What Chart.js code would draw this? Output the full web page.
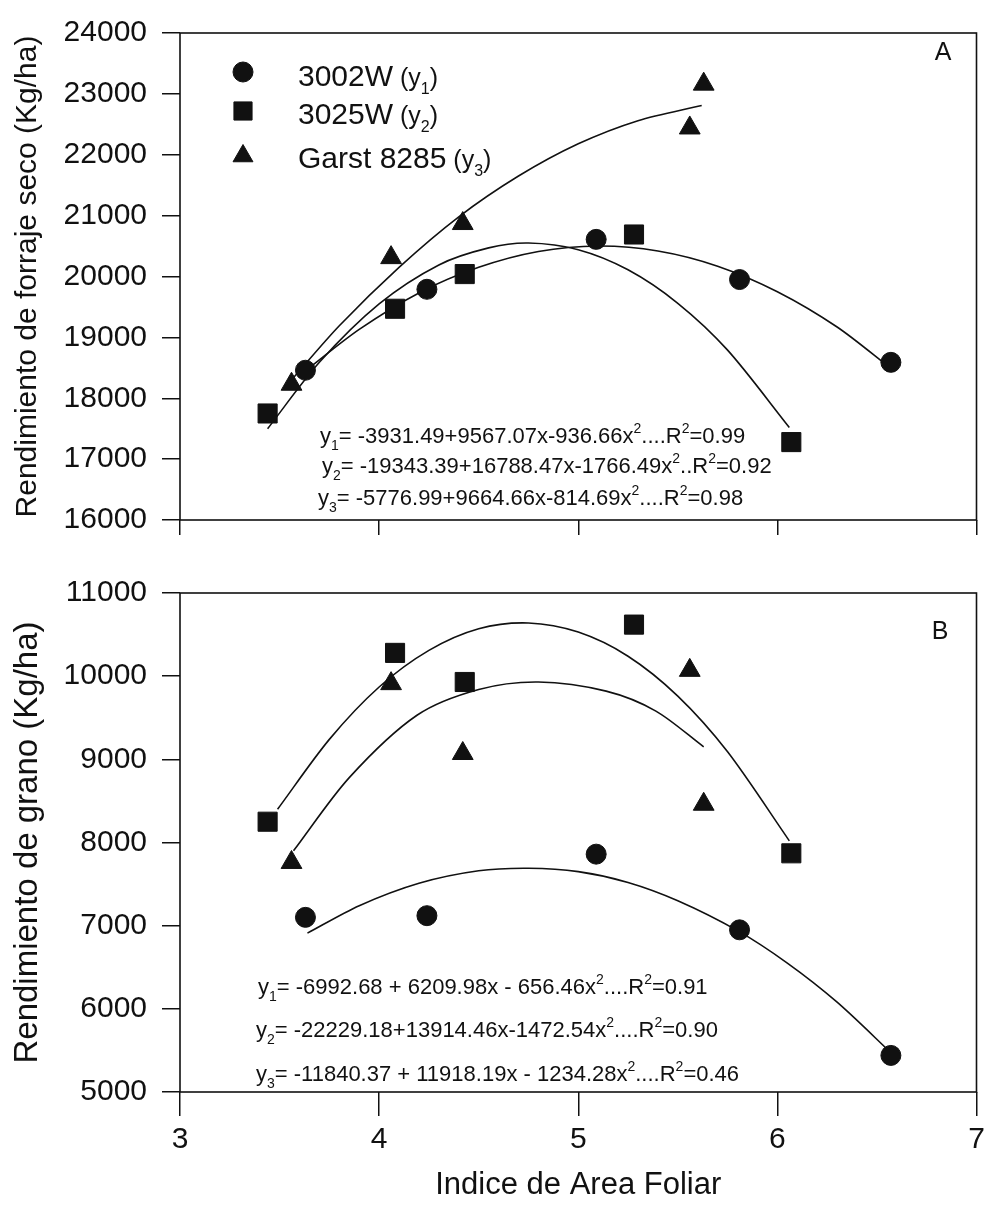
<!DOCTYPE html>
<html>
<head>
<meta charset="utf-8">
<script src="https://cdn.jsdelivr.net/npm/chart.js@4.4.1/dist/chart.umd.min.js"></script>
<style>
  html, body { margin: 0; padding: 0; background: #fff; }
  #wrap { position: relative; width: 991px; height: 1211px; background: #fff; }
  #wrap canvas { position: absolute; left: 0; }
  #cA { top: 0; }
  #cB { top: 560px; }
</style>
</head>
<body>
<div id="wrap">
  <canvas id="cA" width="991" height="560"></canvas>
  <canvas id="cB" width="991" height="651"></canvas>
</div>
<script>
// Indice de area foliar por hibrido (mismo en A y B)
const iaf3002W = [3.63, 4.24, 5.09, 5.81, 6.57];
const iaf3025W = [3.44, 4.08, 4.43, 5.28, 6.07];
const iafGarst = [3.56, 4.06, 4.42, 5.56, 5.63];

// A: forraje seco (Kg/ha)
const forraje3002W = [18460, 19790, 20610, 19950, 18590];
const forraje3025W = [17750, 19470, 20040, 20690, 17280];
const forrajeGarst = [18230, 20310, 20870, 22440, 23160];

// B: grano (Kg/ha)
const grano3002W = [7100, 7120, 7860, 6950, 5440];
const grano3025W = [8250, 10280, 9930, 10620, 7870];
const granoGarst = [7760, 9910, 9070, 10070, 8460];

// curvas ajustadas
const fitA1x = [3.63, 3.9, 4.2, 4.5, 4.8, 5.1, 5.4, 5.7, 6.0, 6.3, 6.57];
const fitA1y = [18450, 19130, 19730, 20150, 20410, 20500, 20420, 20170, 19750, 19170, 18490];
const fitA2x = [3.44, 3.7, 4.0, 4.3, 4.55, 4.75, 5.0, 5.25, 5.5, 5.75, 6.06];
const fitA2y = [17500, 18590, 19550, 20190, 20470, 20550, 20440, 20110, 19560, 18790, 17520];
const fitA3x = [3.56, 3.8, 4.1, 4.4, 4.7, 5.0, 5.3, 5.62];
const fitA3y = [18300, 19190, 20150, 20980, 21650, 22180, 22560, 22810];

const fitB1x = [3.64, 3.9, 4.2, 4.5, 4.75, 5.0, 5.25, 5.5, 5.8, 6.05, 6.3, 6.58];
const fitB1y = [6910, 7240, 7510, 7660, 7690, 7650, 7520, 7300, 6940, 6550, 6080, 5450];
const fitB2x = [3.49, 3.75, 4.0, 4.25, 4.5, 4.75, 5.0, 5.25, 5.5, 5.75, 6.06];
const fitB2y = [8400, 9240, 9870, 10310, 10570, 10640, 10530, 10240, 9760, 9090, 8020];
const fitB3x = [3.57, 3.85, 4.19, 4.5, 4.8, 5.14, 5.39, 5.63];
const fitB3y = [7900, 8780, 9530, 9840, 9930, 9820, 9580, 9150];

const xTicks = [3, 4, 5, 6, 7];
const yTicksA = [16000, 17000, 18000, 19000, 20000, 21000, 22000, 23000, 24000];
const yTicksB = [5000, 6000, 7000, 8000, 9000, 10000, 11000];

const legendNames = ['3002W', '3025W', 'Garst 8285'];
const legendSubs = ['1', '2', '3'];

const eqA = [
  'y_1= -3931.49+9567.07x-936.66x^2....R^2=0.99',
  'y_2= -19343.39+16788.47x-1766.49x^2..R^2=0.92',
  'y_3= -5776.99+9664.66x-814.69x^2....R^2=0.98'
];
const eqB = [
  'y_1= -6992.68 + 6209.98x - 656.46x^2....R^2=0.91',
  'y_2= -22229.18+13914.46x-1472.54x^2....R^2=0.90',
  'y_3= -11840.37 + 11918.19x - 1234.28x^2....R^2=0.46'
];

const FAMILY = '"Liberation Sans", Arial, sans-serif';
const INK = '#111';
const pts = (xs, ys) => xs.map((x, i) => ({ x, y: ys[i] }));

const STYLES = [
  { pointStyle: 'circle', pointRadius: 10 },
  { pointStyle: 'rect', pointRadius: 13.5 },
  { pointStyle: 'triangle', pointRadius: 12 }
];

function marks(xs, ys, k) {
  return {
    data: pts(xs, ys),
    showLine: false,
    pointStyle: STYLES[k].pointStyle,
    pointRadius: STYLES[k].pointRadius,
    pointBackgroundColor: INK,
    pointBorderColor: INK,
    pointBorderWidth: 1
  };
}

function curve(xs, ys) {
  return {
    data: pts(xs, ys),
    showLine: true,
    pointRadius: 0,
    borderColor: INK,
    borderWidth: 1.6,
    fill: false,
    tension: 0.3
  };
}

// texto con subindice (_) y superindice (^)
function rich(ctx, x, y, str, size) {
  let i = 0;
  while (i < str.length) {
    let t, mode = null;
    if (str[i] === '_' || str[i] === '^') {
      mode = str[i] === '_' ? 'sub' : 'sup';
      t = str[i + 1];
      i += 2;
    } else {
      let j = i;
      while (j < str.length && str[j] !== '_' && str[j] !== '^') j++;
      t = str.slice(i, j);
      i = j;
    }
    const fs = mode ? Math.round(size * 0.62) : size;
    ctx.font = fs + 'px ' + FAMILY;
    const dy = mode === 'sub' ? size * 0.3 : mode === 'sup' ? -size * 0.45 : 0;
    ctx.fillText(t, x, y + dy);
    x += ctx.measureText(t).width;
  }
  return x;
}

const frame = {
  id: 'frame',
  afterDraw(chart) {
    const { ctx, chartArea: a } = chart;
    ctx.save();
    ctx.strokeStyle = INK;
    ctx.lineWidth = 1.6;
    ctx.strokeRect(a.left, a.top, a.right - a.left, a.bottom - a.top);
    ctx.restore();
  }
};

function textLayer(lines, lineX, lineY, letter, letterXY, withLegend) {
  return {
    id: 'textLayer',
    afterDraw(chart) {
      const ctx = chart.ctx;
      ctx.save();
      ctx.fillStyle = INK;
      ctx.textBaseline = 'alphabetic';
      ctx.textAlign = 'left';
      lines.forEach((l, i) => rich(ctx, lineX[i], lineY[i], l, 22));
      ctx.font = '25px ' + FAMILY;
      ctx.textAlign = 'center';
      ctx.textBaseline = 'middle';
      ctx.fillText(letter, letterXY[0], letterXY[1]);
      if (withLegend) {
        const my = [72, 111, 156];
        const ty = [86, 124, 168];
        legendNames.forEach((name, i) => {
          ctx.fillStyle = INK;
          ctx.strokeStyle = INK;
          Chart.helpers.drawPoint(ctx, {
            pointStyle: STYLES[i].pointStyle,
            radius: i === 2 ? 11.5 : STYLES[i].pointRadius * (i === 1 ? 0.95 : 1),
            rotation: 0,
            borderWidth: 1
          }, 243, my[i]);
          ctx.textAlign = 'left';
          ctx.textBaseline = 'alphabetic';
          ctx.font = '30px ' + FAMILY;
          ctx.fillText(name, 298, ty[i]);
          let x = 298 + ctx.measureText(name).width;
          x = rich(ctx, x, ty[i], ' (y_' + legendSubs[i], 25);
          ctx.font = '25px ' + FAMILY;
          ctx.fillText(')', x, ty[i]);
        });
      }
      ctx.restore();
    }
  };
}

function gridOpts(len) {
  return { drawOnChartArea: false, drawTicks: true, tickLength: len, color: INK, lineWidth: 1.5 };
}

function panel(canvas, datasets, o) {
  return new Chart(canvas, {
    type: 'scatter',
    data: { datasets },
    options: {
      responsive: false,
      animation: false,
      events: [],
      layout: { padding: { top: o.padTop, right: 13, left: 0, bottom: 0 } },
      plugins: { legend: { display: false }, tooltip: { enabled: false } },
      scales: {
        x: {
          type: 'linear',
          min: 3, max: 7,
          afterBuildTicks: s => { s.ticks = xTicks.map(v => ({ value: v })); },
          afterFit: s => { s.height = o.xHeight; },
          border: { display: false },
          grid: gridOpts(o.xTick),
          ticks: {
            display: o.xLabels,
            color: INK,
            padding: 6,
            maxRotation: 0,
            font: { size: 30, family: FAMILY },
            callback: v => String(v)
          },
          title: {
            display: o.xLabels,
            text: 'Indice de Area Foliar',
            color: INK,
            font: { size: 31, family: FAMILY },
            padding: { top: 0, bottom: 7 }
          }
        },
        y: {
          type: 'linear',
          min: o.yTicks[0], max: o.yTicks[o.yTicks.length - 1],
          afterBuildTicks: s => { s.ticks = o.yTicks.map(v => ({ value: v })); },
          afterFit: s => { s.width = 180; },
          border: { display: false },
          grid: gridOpts(18),
          ticks: {
            color: INK,
            padding: 15,
            font: { size: 30, family: FAMILY },
            callback: v => String(v)
          },
          title: {
            display: true,
            text: o.yTitle,
            color: INK,
            font: { size: o.yTitleSize, family: FAMILY },
            padding: { top: o.yTitlePad, bottom: 0 }
          }
        }
      }
    },
    plugins: [frame, o.layer]
  });
}

panel(document.getElementById('cA'), [
  marks(iaf3002W, forraje3002W, 0),
  marks(iaf3025W, forraje3025W, 1),
  marks(iafGarst, forrajeGarst, 2),
  curve(fitA1x, fitA1y),
  curve(fitA2x, fitA2y),
  curve(fitA3x, fitA3y)
], {
  padTop: 23, xHeight: 40, xTick: 15, xLabels: false,
  yTicks: yTicksA,
  yTitle: 'Rendimiento de forraje seco (Kg/ha)', yTitleSize: 30, yTitlePad: 10,
  layer: textLayer(eqA, [320, 322, 318], [443, 473, 505], 'A', [943, 53], true)
});

panel(document.getElementById('cB'), [
  marks(iaf3002W, grano3002W, 0),
  marks(iaf3025W, grano3025W, 1),
  marks(iafGarst, granoGarst, 2),
  curve(fitB1x, fitB1y),
  curve(fitB2x, fitB2y),
  curve(fitB3x, fitB3y)
], {
  padTop: 32, xHeight: 119, xTick: 24, xLabels: true,
  yTicks: yTicksB,
  yTitle: 'Rendimiento de grano (Kg/ha)', yTitleSize: 33, yTitlePad: 8,
  layer: textLayer(eqB, [258, 256, 256], [994, 1037, 1081].map(v => v - 560), 'B', [940, 632 - 560], false)
});
</script>
</body>
</html>
